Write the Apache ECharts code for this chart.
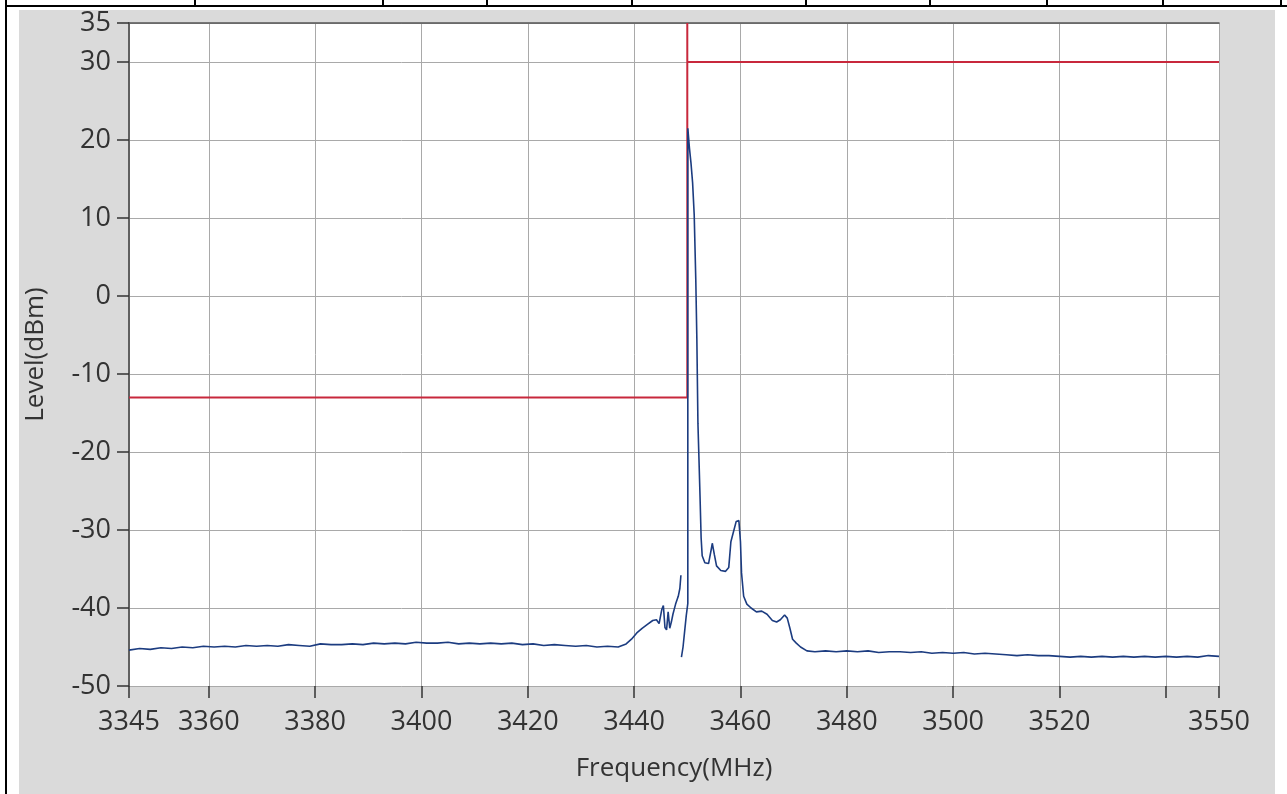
<!DOCTYPE html>
<html>
<head>
<meta charset="utf-8">
<script src="https://cdn.jsdelivr.net/npm/echarts@6/dist/echarts.min.js"></script>
<style>
  html, body { margin: 0; padding: 0; background: #ffffff; }
  #main { width: 1287px; height: 794px; }
</style>
</head>
<body>
<div id="main"></div>
<script>
// measured trace (MHz, dBm); null breaks the line between sweeps
var traceFreq = [
  3345, 3347, 3349, 3351, 3353, 3355, 3357, 3359, 3361, 3363, 3365, 3367, 3369, 3371, 3373, 3375,
  3377, 3379, 3381, 3383, 3385, 3387, 3389, 3391, 3393, 3395, 3397, 3399, 3401, 3403, 3405, 3407,
  3409, 3411, 3413, 3415, 3417, 3419, 3421, 3423, 3425, 3427, 3429, 3431, 3433, 3435, 3437,
  3438.5, 3439.5, 3440.5, 3441.5, 3442.5, 3443.5, 3444.2, 3444.7, 3445.2, 3445.5, 3445.8, 3446.1,
  3446.4, 3446.7, 3447.0, 3447.3, 3447.8, 3448.3, 3448.6, 3448.8, null,
  3448.9, 3449.2, 3449.5, 3449.8, 3450.1,
  3450.1, 3450.4, 3450.7, 3451.0, 3451.3, 3451.6, 3451.8, 3452.0, 3452.2, 3452.4, 3452.6,
  3452.8, 3453.3, 3454.0, 3454.5, 3454.7, 3455.1, 3455.5, 3456.3, 3457.2, 3457.8, 3458.2, 3458.7,
  3459.2, 3459.7, 3460.0, 3460.2, 3460.6, 3461.2, 3462.0, 3463.0, 3464.0, 3465.0, 3466.0, 3466.8,
  3467.5, 3468.3, 3468.8, 3469.3, 3469.8, 3470.5, 3471.3, 3472.5, 3474,
  3476, 3478, 3480, 3482, 3484, 3486, 3488, 3490, 3492, 3494, 3496, 3498, 3500, 3502, 3504, 3506,
  3508, 3510, 3512, 3514, 3516, 3518, 3520, 3522, 3524, 3526, 3528, 3530, 3532, 3534, 3536, 3538,
  3540, 3542, 3544, 3546, 3548, 3550
];
var traceLevel = [
  -45.4, -45.2, -45.3, -45.1, -45.2, -45.0, -45.1, -44.9, -45.0, -44.9, -45.0, -44.8, -44.9, -44.8, -44.9, -44.7,
  -44.8, -44.9, -44.6, -44.7, -44.7, -44.6, -44.7, -44.5, -44.6, -44.5, -44.6, -44.4, -44.5, -44.5, -44.4, -44.6,
  -44.5, -44.6, -44.5, -44.6, -44.5, -44.7, -44.6, -44.8, -44.7, -44.8, -44.9, -44.8, -45.0, -44.9, -45.0,
  -44.6, -44.0, -43.2, -42.6, -42.1, -41.6, -41.5, -42.0, -40.2, -39.7, -42.5, -42.8,
  -40.5, -42.6, -41.8, -40.8, -39.5, -38.5, -37.5, -35.8, null,
  -46.3, -45.0, -43.0, -41.0, -39.4,
  21.5, 19.0, 17.0, 14.5, 10.4, 2.0, -5.6, -16.3, -21.0, -25.8, -31.0,
  -33.3, -34.2, -34.3, -32.5, -31.7, -33.2, -34.6, -35.2, -35.3, -34.8, -31.5, -30.2,
  -28.9, -28.8, -31.5, -35.5, -38.5, -39.5, -40.0, -40.5, -40.4, -40.8, -41.6, -41.8,
  -41.5, -40.9, -41.3, -42.6, -44.0, -44.5, -45.0, -45.5, -45.6,
  -45.5, -45.6, -45.5, -45.6, -45.5, -45.7, -45.6, -45.6, -45.7, -45.6, -45.8, -45.7, -45.8, -45.7, -45.9, -45.8,
  -45.9, -46.0, -46.1, -46.0, -46.1, -46.1, -46.2, -46.3, -46.2, -46.3, -46.2, -46.3, -46.2, -46.3, -46.2, -46.3,
  -46.2, -46.3, -46.2, -46.3, -46.1, -46.2
];

// limit mask
var limitFreq = [3345, 3450, 3450, 3450, 3550];
var limitLevel = [-13, -13, 35, 30, 30];

// axis ticks and labels
var freqTicks = [3345, 3360, 3380, 3400, 3420, 3440, 3460, 3480, 3500, 3520, 3540, 3550];
var freqLabels = [3345, 3360, 3380, 3400, 3420, 3440, 3460, 3480, 3500, 3520, 3550];
var levelTicks = [-50, -40, -30, -20, -10, 0, 10, 20, 30, 35];

function pairs(xs, ys) {
  return xs.map(function (x, i) {
    return (x === null || ys[i] === null) ? [null, null] : [x, ys[i]];
  });
}

var chartDom = document.getElementById('main');
var myChart = echarts.init(chartDom);
var option;

var font = '"Open Sans", "DejaVu Sans", sans-serif';
var tableX = [195, 383, 487, 632, 806, 930, 1047, 1163, 1281];

var graphics = [
  { type: 'rect', z: -10, silent: true, shape: { x: 19, y: 10, width: 1256, height: 784 }, style: { fill: '#dadada' } },
  { type: 'line', silent: true, shape: { x1: 6, y1: 0, x2: 6, y2: 794 }, style: { stroke: '#000', lineWidth: 2 } },
  { type: 'line', silent: true, shape: { x1: 5, y1: 6, x2: 1287, y2: 6 }, style: { stroke: '#000', lineWidth: 2 } }
];
tableX.forEach(function (x) {
  graphics.push({ type: 'line', silent: true, shape: { x1: x, y1: 0, x2: x, y2: 6 }, style: { stroke: '#000', lineWidth: 2 } });
});

function plain(v) { return String(v); }

option = {
  animation: false,
  textStyle: { fontFamily: font },
  graphic: graphics,
  grid: {
    left: 129, right: 68, top: 23, bottom: 108,
    show: true, backgroundColor: '#ffffff', borderWidth: 0
  },
  xAxis: [
    {
      type: 'value',
      min: 3345, max: 3550,
      name: 'Frequency(MHz)',
      nameLocation: 'middle',
      nameGap: 70,
      nameTextStyle: { fontSize: 26, color: '#333', fontFamily: font },
      axisLine: { show: false, onZero: false },
      axisTick: { show: true, length: 12, customValues: freqTicks, lineStyle: { color: '#333', width: 1.5 } },
      axisLabel: { customValues: freqLabels, formatter: plain, margin: 23, fontSize: 27, color: '#333', fontFamily: font },
      splitLine: { show: true, lineStyle: { color: '#a9a9a9', width: 1 } }
    },
    {
      type: 'value',
      position: 'top',
      min: 3345, max: 3550,
      axisLine: { show: true, onZero: false, lineStyle: { color: '#555', width: 1.5 } },
      axisTick: { show: false },
      axisLabel: { show: false },
      splitLine: { show: false }
    }
  ],
  yAxis: {
    type: 'value',
    min: -50, max: 35,
    name: 'Level(dBm)',
    nameLocation: 'middle',
    nameGap: 80,
    nameTextStyle: { fontSize: 26, color: '#333', fontFamily: font },
    axisLine: { show: true, onZero: false, lineStyle: { color: '#606060', width: 2 } },
    axisTick: { show: true, length: 12, customValues: levelTicks, lineStyle: { color: '#333', width: 1.5 } },
    axisLabel: { customValues: levelTicks, formatter: plain, margin: 18, fontSize: 27, color: '#333', fontFamily: font },
    splitLine: { show: true, lineStyle: { color: '#a9a9a9', width: 1 } }
  },
  series: [
    {
      name: 'Limit',
      type: 'line',
      data: pairs(limitFreq, limitLevel),
      showSymbol: false,
      lineStyle: { color: '#c8283c', width: 2 },
      clip: true,
      z: 2
    },
    {
      name: 'Level',
      type: 'line',
      data: pairs(traceFreq, traceLevel),
      showSymbol: false,
      connectNulls: false,
      lineStyle: { color: '#1c3c80', width: 1.6 },
      clip: true,
      z: 3
    }
  ]
};

option && myChart.setOption(option);
</script>
</body>
</html>
